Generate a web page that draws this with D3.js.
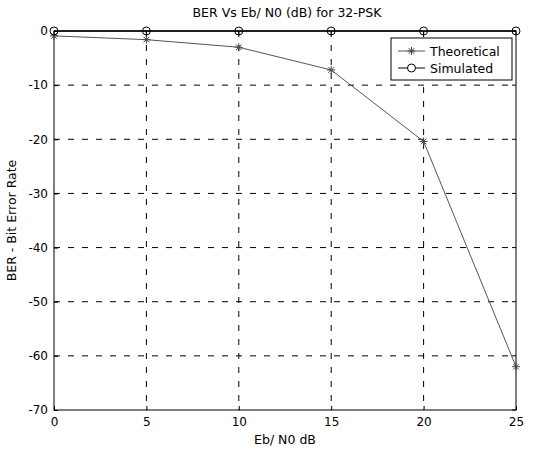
<!DOCTYPE html>
<html>
<head>
<meta charset="utf-8">
<script src="https://cdn.jsdelivr.net/npm/d3@7"></script>
<style>
  body { margin: 0; background: #fff; }
  text { font-family: "DejaVu Sans", sans-serif; fill: #000; }
</style>
</head>
<body>
<svg id="chart"></svg>
<script>
// Chart data
const ebn0 = [0, 5, 10, 15, 20, 25];
const theoretical = [-0.9, -1.6, -3.0, -7.2, -20.4, -62];
const simulated = [0, 0, 0, 0, 0, 0];
const xTicks = [0, 5, 10, 15, 20, 25];
const yTicks = [0, -10, -20, -30, -40, -50, -60, -70];

const W = 542, H = 450;
const margin = {top: 31, right: 26, bottom: 40, left: 54};
const width = W - margin.left - margin.right;
const height = H - margin.top - margin.bottom;
const FONT = '"DejaVu Sans", sans-serif';

const svg = d3.select('#chart')
    .attr('width', W)
    .attr('height', H);

const chart = svg.append('g')
    .attr('transform', `translate(${margin.left},${margin.top})`);

const xScale = d3.scaleLinear().domain([0, 25]).range([0, width]);
const yScale = d3.scaleLinear().domain([-70, 0]).range([height, 0]);

// Dashed grid
chart.append('g').selectAll('line')
    .data(xTicks.slice(1, -1))
  .join('line')
    .attr('x1', d => xScale(d)).attr('x2', d => xScale(d))
    .attr('y1', 0).attr('y2', height)
    .attr('stroke', '#000').attr('stroke-width', 1)
    .attr('stroke-dasharray', '6,8');

chart.append('g').selectAll('line')
    .data(yTicks.slice(1, -1))
  .join('line')
    .attr('x1', 0).attr('x2', width)
    .attr('y1', d => yScale(d)).attr('y2', d => yScale(d))
    .attr('stroke', '#000').attr('stroke-width', 1)
    .attr('stroke-dasharray', '6,8');

// Axes
const xAxis = d3.axisBottom(xScale).tickValues(xTicks).tickSize(4).tickPadding(3).tickFormat(d => d);
const yAxis = d3.axisLeft(yScale).tickValues(yTicks).tickSize(4).tickPadding(2).tickFormat(d => d);

const xAxisG = chart.append('g')
    .attr('transform', `translate(0,${height})`)
    .call(xAxis);
xAxisG.selectAll('.tick line').attr('y1', -4).attr('y2', 0);
const yAxisG = chart.append('g').call(yAxis);
yAxisG.selectAll('.tick line').attr('x1', 4).attr('x2', 0);
[xAxisG, yAxisG].forEach(g => {
  g.select('.domain').remove();
  g.selectAll('text').style('font-size', '12px').style('font-family', FONT);
});

// Top/right ticks
chart.append('g').selectAll('line')
    .data(xTicks)
  .join('line')
    .attr('x1', d => xScale(d)).attr('x2', d => xScale(d))
    .attr('y1', 0).attr('y2', 4)
    .attr('stroke', '#000');
chart.append('g').selectAll('line')
    .data(yTicks)
  .join('line')
    .attr('x1', width - 4).attr('x2', width)
    .attr('y1', d => yScale(d)).attr('y2', d => yScale(d))
    .attr('stroke', '#000');

// Box
chart.append('rect')
    .attr('width', width).attr('height', height)
    .attr('fill', 'none').attr('stroke', '#000').attr('stroke-width', 1);

// Theoretical
const line = d3.line().x((d, i) => xScale(ebn0[i])).y(d => yScale(d));
chart.append('path')
    .datum(theoretical)
    .attr('d', line)
    .attr('fill', 'none').attr('stroke', '#555').attr('stroke-width', 1);

function star(g, x, y, r, color) {
  const s = g.append('g').attr('transform', `translate(${x},${y})`)
      .attr('stroke', color).attr('stroke-width', 1);
  s.append('line').attr('x1', -r).attr('x2', r).attr('y1', 0).attr('y2', 0);
  s.append('line').attr('x1', 0).attr('x2', 0).attr('y1', -r).attr('y2', r);
  const k = r * 0.7;
  s.append('line').attr('x1', -k).attr('x2', k).attr('y1', -k).attr('y2', k);
  s.append('line').attr('x1', -k).attr('x2', k).attr('y1', k).attr('y2', -k);
}
theoretical.forEach((v, i) => star(chart, xScale(ebn0[i]), yScale(v), 4, '#444'));

// Simulated
chart.append('path')
    .datum(simulated)
    .attr('d', line)
    .attr('fill', 'none').attr('stroke', '#000').attr('stroke-width', 1.5);
chart.append('g').selectAll('circle')
    .data(simulated)
  .join('circle')
    .attr('cx', (d, i) => xScale(ebn0[i]))
    .attr('cy', d => yScale(d))
    .attr('r', 4)
    .attr('fill', 'none').attr('stroke', '#000').attr('stroke-width', 1);

// Legend
const lg = svg.append('g').attr('transform', 'translate(391,38)');
lg.append('rect').attr('width', 121).attr('height', 42)
    .attr('fill', '#fff').attr('stroke', '#000').attr('stroke-width', 1);
lg.append('line').attr('x1', 7).attr('x2', 34).attr('y1', 13).attr('y2', 13)
    .attr('stroke', '#555');
star(lg, 20.5, 13, 4, '#444');
lg.append('text').attr('x', 39).attr('y', 17.5).style('font-size', '12.5px').text('Theoretical');
lg.append('line').attr('x1', 7).attr('x2', 34).attr('y1', 30).attr('y2', 30)
    .attr('stroke', '#000');
lg.append('circle').attr('cx', 20.5).attr('cy', 30).attr('r', 4)
    .attr('fill', '#fff').attr('stroke', '#000');
lg.append('text').attr('x', 39).attr('y', 34.5).style('font-size', '12.5px').text('Simulated');

// Titles
svg.append('text')
    .attr('x', margin.left + width / 2 + 2).attr('y', 17)
    .attr('text-anchor', 'middle').style('font-size', '12.5px')
    .text('BER Vs Eb/ N0 (dB) for 32-PSK');
svg.append('text')
    .attr('x', margin.left + width / 2).attr('y', 444)
    .attr('text-anchor', 'middle').style('font-size', '12.5px')
    .text('Eb/ N0 dB');
svg.append('text')
    .attr('transform', `translate(16,${margin.top + height / 2}) rotate(-90)`)
    .attr('text-anchor', 'middle').style('font-size', '12.5px')
    .text('BER - Bit Error Rate');
</script>
</body>
</html>
